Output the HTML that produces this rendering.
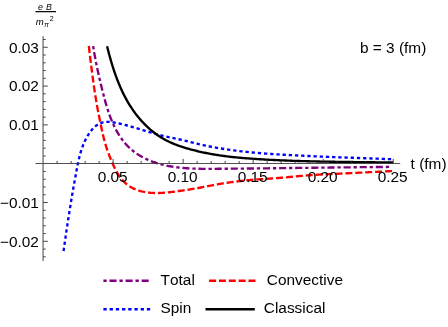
<!DOCTYPE html>
<html><head><meta charset="utf-8"><title>plot</title>
<style>
html,body{margin:0;padding:0;background:#fff;}
body{width:448px;height:327px;overflow:hidden;font-family:"Liberation Sans",sans-serif;}
svg{display:block;will-change:transform;}
text{font-kerning:none;font-family:"Liberation Sans",sans-serif;font-size:15.4px;fill:#000;}
.it{font-style:italic;}
</style></head><body>
<svg width="448" height="327" viewBox="0 0 448 327">
<rect width="448" height="327" fill="#fff"/>
<g fill="none" stroke-width="2.35" stroke-linecap="butt" stroke-linejoin="round">
<path d="M93.15,46.10 L93.34,47.35 L93.54,48.60 L93.74,49.85 L93.94,51.10 L94.15,52.34 L94.37,53.58 L94.59,54.83 L94.81,56.07 L95.04,57.30 L95.27,58.54 L95.50,59.78 L95.74,61.01 L95.98,62.24 L96.23,63.47 L96.48,64.71 L96.73,65.93 L96.99,67.16 L97.25,68.39 L97.51,69.62 L97.77,70.84 L98.04,72.07 L98.32,73.29 L98.59,74.51 L98.87,75.74 L99.15,76.96 L99.43,78.18 L99.72,79.40 L100.01,80.63 L100.30,81.85 L100.59,83.07 L100.88,84.29 L101.18,85.51 L101.48,86.73 L101.78,87.96 L102.08,89.18 L102.39,90.40 L102.70,91.62 L103.00,92.85 L103.32,94.07 L103.63,95.29 L103.95,96.52 L104.27,97.74 L104.59,98.96 L104.92,100.18 L105.26,101.40 L105.60,102.62 L105.95,103.83 L106.30,105.05 L106.66,106.26 L107.03,107.47 L107.40,108.68 L107.79,109.88 L108.18,111.08 L108.58,112.28 L108.99,113.48 L109.41,114.67 L109.84,115.86 L110.28,117.04 L110.74,118.22 L111.20,119.40 L111.68,120.57 L112.17,121.73 L112.67,122.90 L113.19,124.05 L113.72,125.20 L114.26,126.34 L114.82,127.48 L115.39,128.61 L115.98,129.73 L116.58,130.84 L117.20,131.94 L117.83,133.03 L118.48,134.11 L119.14,135.17 L119.82,136.23 L120.52,137.27 L121.24,138.30 L121.97,139.32 L122.72,140.32 L123.49,141.30 L124.27,142.27 L125.08,143.23 L125.90,144.16 L126.74,145.08 L127.60,145.98 L128.48,146.87 L129.38,147.73 L130.30,148.57 L131.23,149.40 L132.19,150.21 L133.16,150.99 L134.14,151.76 L135.15,152.51 L136.17,153.24 L137.20,153.94 L138.25,154.63 L139.31,155.30 L140.38,155.95 L141.47,156.58 L142.57,157.19 L143.68,157.79 L144.80,158.36 L145.94,158.91 L147.08,159.44 L148.23,159.95 L149.40,160.44 L150.57,160.91 L151.74,161.37 L152.93,161.81 L154.12,162.22 L155.32,162.63 L156.53,163.01 L157.74,163.38 L158.96,163.73 L160.18,164.07 L161.41,164.39 L162.64,164.70 L163.87,164.99 L165.10,165.27 L166.34,165.54 L167.58,165.79 L168.82,166.03 L170.06,166.25 L171.31,166.47 L172.55,166.67 L173.80,166.86 L175.04,167.04 L176.29,167.21 L177.54,167.37 L178.78,167.51 L180.03,167.65 L181.28,167.78 L182.53,167.90 L183.78,168.01 L185.04,168.11 L186.29,168.21 L187.54,168.29 L188.79,168.37 L190.05,168.44 L191.30,168.50 L192.56,168.56 L193.81,168.61 L195.07,168.66 L196.33,168.70 L197.58,168.73 L198.84,168.76 L200.10,168.78 L201.36,168.80 L202.62,168.82 L203.87,168.83 L205.13,168.83 L206.39,168.84 L207.65,168.84 L208.91,168.84 L210.17,168.84 L211.43,168.83 L212.69,168.83 L213.95,168.82 L215.21,168.81 L216.47,168.80 L217.73,168.79 L218.99,168.78 L220.25,168.77 L221.51,168.76 L222.77,168.75 L224.03,168.74 L225.29,168.73 L226.55,168.72 L227.81,168.71 L229.07,168.70 L230.33,168.69 L231.59,168.68 L232.85,168.67 L234.10,168.66 L235.36,168.65 L236.62,168.63 L237.88,168.62 L239.14,168.61 L240.40,168.60 L241.66,168.59 L242.92,168.57 L244.18,168.56 L245.44,168.55 L246.70,168.54 L247.96,168.52 L249.22,168.51 L250.48,168.50 L251.74,168.48 L253.00,168.47 L254.25,168.46 L255.51,168.44 L256.77,168.43 L258.03,168.41 L259.29,168.40 L260.55,168.39 L261.81,168.37 L263.07,168.36 L264.33,168.34 L265.59,168.33 L266.85,168.31 L268.11,168.30 L269.36,168.28 L270.62,168.27 L271.88,168.25 L273.14,168.24 L274.40,168.22 L275.66,168.21 L276.92,168.19 L278.18,168.18 L279.44,168.16 L280.70,168.15 L281.96,168.13 L283.21,168.12 L284.47,168.10 L285.73,168.09 L286.99,168.07 L288.25,168.06 L289.51,168.04 L290.77,168.02 L292.03,168.01 L293.29,167.99 L294.54,167.98 L295.80,167.96 L297.06,167.95 L298.32,167.93 L299.58,167.91 L300.84,167.90 L302.10,167.88 L303.36,167.87 L304.62,167.85 L305.88,167.84 L307.13,167.82 L308.39,167.80 L309.65,167.79 L310.91,167.77 L312.17,167.76 L313.43,167.74 L314.69,167.72 L315.95,167.71 L317.21,167.69 L318.46,167.68 L319.72,167.66 L320.98,167.65 L322.24,167.63 L323.50,167.62 L324.76,167.60 L326.02,167.58 L327.28,167.57 L328.54,167.55 L329.80,167.54 L331.05,167.52 L332.31,167.51 L333.57,167.49 L334.83,167.48 L336.09,167.46 L337.35,167.45 L338.61,167.43 L339.87,167.42 L341.13,167.41 L342.39,167.39 L343.65,167.38 L344.90,167.36 L346.16,167.35 L347.42,167.33 L348.68,167.32 L349.94,167.31 L351.20,167.29 L352.46,167.28 L353.72,167.26 L354.98,167.25 L356.24,167.24 L357.50,167.22 L358.76,167.21 L360.01,167.20 L361.27,167.19 L362.53,167.17 L363.79,167.16 L365.05,167.15 L366.31,167.14 L367.57,167.12 L368.83,167.11 L370.09,167.10 L371.35,167.09 L372.61,167.08 L373.87,167.06 L375.13,167.05 L376.39,167.04 L377.65,167.03 L378.91,167.02 L380.17,167.01 L381.43,167.00 L382.69,166.99 L383.94,166.98 L385.20,166.97 L386.46,166.96 L387.72,166.95 L388.98,166.94 L390.24,166.93 L391.50,166.92" stroke="#800080" stroke-dasharray="3.3 2.82 7.12 2.88"/>
<path d="M88.81,46.00 L88.98,47.38 L89.15,48.76 L89.32,50.14 L89.48,51.52 L89.65,52.90 L89.82,54.28 L89.99,55.66 L90.15,57.04 L90.32,58.41 L90.49,59.79 L90.66,61.17 L90.83,62.55 L90.99,63.93 L91.16,65.31 L91.34,66.69 L91.51,68.06 L91.68,69.44 L91.86,70.82 L92.03,72.20 L92.21,73.57 L92.39,74.95 L92.57,76.33 L92.75,77.70 L92.93,79.08 L93.12,80.45 L93.31,81.83 L93.50,83.20 L93.69,84.58 L93.88,85.95 L94.08,87.32 L94.28,88.70 L94.48,90.07 L94.69,91.44 L94.90,92.81 L95.11,94.19 L95.33,95.56 L95.54,96.93 L95.77,98.30 L95.99,99.67 L96.22,101.04 L96.45,102.41 L96.69,103.77 L96.93,105.14 L97.18,106.51 L97.43,107.88 L97.68,109.24 L97.94,110.61 L98.20,111.97 L98.47,113.34 L98.74,114.70 L99.01,116.06 L99.29,117.43 L99.56,118.79 L99.84,120.15 L100.12,121.52 L100.40,122.88 L100.68,124.24 L100.96,125.60 L101.24,126.97 L101.53,128.33 L101.81,129.69 L102.11,131.05 L102.40,132.40 L102.71,133.76 L103.02,135.11 L103.35,136.45 L103.68,137.80 L104.03,139.14 L104.38,140.47 L104.75,141.80 L105.12,143.13 L105.52,144.46 L105.92,145.78 L106.34,147.10 L106.77,148.41 L107.21,149.72 L107.66,151.02 L108.13,152.33 L108.61,153.63 L109.09,154.93 L109.59,156.22 L110.09,157.52 L110.61,158.81 L111.13,160.11 L111.67,161.40 L112.22,162.68 L112.78,163.97 L113.36,165.24 L113.95,166.52 L114.56,167.78 L115.19,169.04 L115.84,170.28 L116.52,171.51 L117.22,172.72 L117.95,173.92 L118.71,175.10 L119.50,176.25 L120.32,177.38 L121.17,178.48 L122.05,179.55 L122.96,180.58 L123.90,181.59 L124.88,182.55 L125.88,183.48 L126.93,184.36 L128.00,185.20 L129.12,185.99 L130.26,186.74 L131.44,187.43 L132.66,188.08 L133.90,188.68 L135.16,189.23 L136.45,189.74 L137.76,190.21 L139.09,190.63 L140.44,191.02 L141.79,191.37 L143.16,191.68 L144.53,191.95 L145.91,192.19 L147.29,192.40 L148.67,192.58 L150.05,192.72 L151.44,192.83 L152.82,192.92 L154.21,192.98 L155.60,193.01 L156.99,193.02 L158.38,193.01 L159.77,192.98 L161.16,192.92 L162.55,192.85 L163.94,192.76 L165.33,192.65 L166.72,192.53 L168.11,192.39 L169.50,192.25 L170.88,192.09 L172.27,191.92 L173.65,191.74 L175.04,191.56 L176.42,191.37 L177.80,191.18 L179.18,190.98 L180.56,190.78 L181.93,190.58 L183.30,190.38 L184.68,190.18 L186.05,189.98 L187.41,189.77 L188.78,189.56 L190.15,189.35 L191.51,189.13 L192.87,188.91 L194.24,188.68 L195.60,188.45 L196.96,188.21 L198.32,187.97 L199.69,187.72 L201.05,187.47 L202.41,187.21 L203.77,186.95 L205.14,186.68 L206.50,186.42 L207.86,186.15 L209.23,185.88 L210.59,185.62 L211.96,185.36 L213.32,185.09 L214.69,184.84 L216.06,184.58 L217.42,184.34 L218.79,184.09 L220.16,183.86 L221.53,183.63 L222.90,183.40 L224.27,183.19 L225.65,182.97 L227.02,182.76 L228.39,182.56 L229.77,182.37 L231.14,182.17 L232.52,181.99 L233.89,181.81 L235.27,181.63 L236.65,181.46 L238.03,181.29 L239.41,181.13 L240.79,180.97 L242.17,180.82 L243.55,180.68 L244.93,180.53 L246.31,180.40 L247.69,180.26 L249.07,180.13 L250.46,180.01 L251.84,179.89 L253.22,179.78 L254.61,179.66 L255.99,179.56 L257.38,179.45 L258.76,179.35 L260.15,179.25 L261.53,179.16 L262.92,179.06 L264.30,178.97 L265.69,178.88 L267.08,178.79 L268.46,178.69 L269.85,178.60 L271.23,178.51 L272.62,178.41 L274.01,178.32 L275.39,178.22 L276.78,178.12 L278.16,178.01 L279.55,177.90 L280.93,177.79 L282.31,177.67 L283.70,177.55 L285.08,177.43 L286.46,177.30 L287.85,177.17 L289.23,177.03 L290.61,176.90 L291.99,176.76 L293.38,176.62 L294.76,176.49 L296.14,176.35 L297.52,176.22 L298.91,176.09 L300.29,175.97 L301.67,175.85 L303.06,175.73 L304.44,175.62 L305.82,175.51 L307.21,175.41 L308.59,175.30 L309.98,175.21 L311.36,175.11 L312.75,175.02 L314.14,174.94 L315.52,174.85 L316.91,174.77 L318.29,174.69 L319.68,174.61 L321.07,174.54 L322.45,174.46 L323.84,174.39 L325.23,174.32 L326.62,174.25 L328.00,174.19 L329.39,174.12 L330.78,174.05 L332.16,173.99 L333.55,173.93 L334.94,173.86 L336.33,173.80 L337.71,173.73 L339.10,173.67 L340.49,173.60 L341.88,173.54 L343.26,173.47 L344.65,173.41 L346.04,173.34 L347.43,173.28 L348.81,173.21 L350.20,173.14 L351.59,173.08 L352.97,173.01 L354.36,172.94 L355.75,172.88 L357.14,172.81 L358.52,172.74 L359.91,172.67 L361.30,172.61 L362.68,172.54 L364.07,172.47 L365.46,172.40 L366.85,172.33 L368.23,172.26 L369.62,172.19 L371.01,172.12 L372.39,172.06 L373.78,171.99 L375.17,171.92 L376.56,171.85 L377.94,171.78 L379.33,171.71 L380.72,171.63 L382.10,171.56 L383.49,171.49 L384.88,171.42 L386.26,171.35 L387.65,171.28 L389.04,171.21 L390.43,171.14 L391.81,171.06 L393.20,170.99" stroke="#ff0000" stroke-dasharray="7.04 2.888"/>
<path d="M63.56,251.02 L63.76,249.58 L63.97,248.15 L64.17,246.71 L64.38,245.27 L64.58,243.84 L64.79,242.40 L64.99,240.97 L65.20,239.53 L65.41,238.10 L65.62,236.66 L65.83,235.23 L66.04,233.80 L66.25,232.36 L66.46,230.93 L66.68,229.50 L66.89,228.06 L67.10,226.63 L67.32,225.20 L67.54,223.77 L67.76,222.34 L67.98,220.91 L68.20,219.48 L68.42,218.05 L68.64,216.62 L68.86,215.19 L69.09,213.76 L69.31,212.33 L69.54,210.90 L69.77,209.47 L70.00,208.04 L70.23,206.61 L70.46,205.18 L70.69,203.75 L70.93,202.32 L71.16,200.90 L71.40,199.47 L71.64,198.04 L71.88,196.61 L72.12,195.18 L72.36,193.76 L72.61,192.33 L72.85,190.90 L73.10,189.48 L73.35,188.05 L73.60,186.62 L73.85,185.20 L74.10,183.77 L74.36,182.34 L74.62,180.92 L74.88,179.49 L75.14,178.06 L75.40,176.64 L75.66,175.21 L75.93,173.79 L76.19,172.36 L76.46,170.94 L76.73,169.51 L77.01,168.08 L77.28,166.66 L77.56,165.24 L77.85,163.81 L78.15,162.40 L78.46,160.98 L78.77,159.57 L79.10,158.16 L79.44,156.75 L79.80,155.35 L80.18,153.96 L80.57,152.57 L80.98,151.19 L81.41,149.81 L81.86,148.45 L82.34,147.09 L82.84,145.74 L83.37,144.40 L83.92,143.06 L84.51,141.74 L85.12,140.43 L85.77,139.13 L86.45,137.85 L87.16,136.57 L87.91,135.31 L88.70,134.06 L89.53,132.83 L90.39,131.62 L91.30,130.45 L92.25,129.32 L93.24,128.25 L94.27,127.23 L95.35,126.28 L96.48,125.41 L97.65,124.61 L98.87,123.92 L100.14,123.32 L101.46,122.83 L102.82,122.44 L104.22,122.16 L105.65,121.98 L107.10,121.89 L108.56,121.88 L110.02,121.95 L111.47,122.09 L112.92,122.29 L114.36,122.53 L115.79,122.81 L117.22,123.10 L118.65,123.41 L120.07,123.73 L121.49,124.07 L122.90,124.41 L124.31,124.76 L125.71,125.13 L127.12,125.50 L128.52,125.88 L129.91,126.27 L131.31,126.67 L132.70,127.07 L134.09,127.47 L135.48,127.89 L136.86,128.30 L138.25,128.72 L139.63,129.14 L141.02,129.56 L142.40,129.98 L143.79,130.40 L145.17,130.82 L146.55,131.24 L147.94,131.66 L149.32,132.08 L150.71,132.49 L152.09,132.89 L153.48,133.29 L154.87,133.69 L156.26,134.08 L157.66,134.46 L159.05,134.83 L160.45,135.20 L161.86,135.55 L163.26,135.90 L164.67,136.23 L166.08,136.55 L167.50,136.86 L168.92,137.17 L170.34,137.46 L171.76,137.76 L173.19,138.05 L174.61,138.34 L176.03,138.63 L177.45,138.93 L178.87,139.23 L180.28,139.54 L181.70,139.86 L183.11,140.19 L184.51,140.54 L185.91,140.89 L187.31,141.26 L188.71,141.62 L190.11,141.99 L191.51,142.35 L192.91,142.70 L194.31,143.05 L195.72,143.39 L197.13,143.72 L198.54,144.05 L199.95,144.38 L201.36,144.70 L202.77,145.01 L204.19,145.31 L205.61,145.61 L207.03,145.91 L208.45,146.20 L209.87,146.48 L211.29,146.76 L212.71,147.03 L214.14,147.29 L215.56,147.55 L216.99,147.81 L218.41,148.06 L219.84,148.30 L221.27,148.53 L222.70,148.76 L224.13,148.99 L225.56,149.21 L226.99,149.43 L228.42,149.63 L229.86,149.84 L231.29,150.04 L232.73,150.23 L234.16,150.42 L235.60,150.61 L237.03,150.79 L238.47,150.97 L239.91,151.14 L241.34,151.30 L242.78,151.47 L244.22,151.63 L245.66,151.78 L247.10,151.93 L248.54,152.08 L249.98,152.22 L251.42,152.36 L252.87,152.50 L254.31,152.63 L255.75,152.76 L257.19,152.89 L258.64,153.01 L260.08,153.13 L261.53,153.25 L262.97,153.36 L264.41,153.47 L265.86,153.58 L267.30,153.69 L268.75,153.79 L270.20,153.89 L271.64,153.99 L273.09,154.09 L274.53,154.18 L275.98,154.28 L277.43,154.37 L278.87,154.45 L280.32,154.54 L281.77,154.63 L283.21,154.71 L284.66,154.79 L286.11,154.87 L287.56,154.95 L289.00,155.03 L290.45,155.11 L291.90,155.18 L293.34,155.26 L294.79,155.33 L296.24,155.41 L297.69,155.48 L299.13,155.55 L300.58,155.62 L302.03,155.69 L303.47,155.76 L304.92,155.83 L306.37,155.90 L307.81,155.97 L309.26,156.04 L310.71,156.10 L312.15,156.17 L313.60,156.23 L315.05,156.30 L316.49,156.36 L317.94,156.42 L319.39,156.48 L320.83,156.55 L322.28,156.61 L323.73,156.67 L325.17,156.73 L326.62,156.79 L328.07,156.85 L329.51,156.91 L330.96,156.96 L332.41,157.02 L333.85,157.08 L335.30,157.14 L336.75,157.19 L338.19,157.25 L339.64,157.30 L341.09,157.36 L342.54,157.42 L343.98,157.47 L345.43,157.52 L346.88,157.58 L348.32,157.63 L349.77,157.69 L351.22,157.74 L352.66,157.79 L354.11,157.85 L355.56,157.90 L357.01,157.95 L358.45,158.01 L359.90,158.06 L361.35,158.11 L362.79,158.17 L364.24,158.22 L365.69,158.27 L367.14,158.32 L368.58,158.38 L370.03,158.43 L371.48,158.48 L372.93,158.53 L374.38,158.59 L375.82,158.64 L377.27,158.69 L378.72,158.75 L380.17,158.80 L381.62,158.85 L383.06,158.91 L384.51,158.96 L385.96,159.01 L387.41,159.07 L388.86,159.12 L390.31,159.18 L391.76,159.23 L393.21,159.29" stroke="#0000ff" stroke-dasharray="3.3 2.899"/>
<path d="M107.05,46.16 L107.32,47.26 L107.60,48.36 L107.88,49.46 L108.16,50.56 L108.44,51.66 L108.73,52.76 L109.03,53.86 L109.32,54.97 L109.62,56.07 L109.93,57.18 L110.24,58.28 L110.55,59.39 L110.87,60.49 L111.19,61.60 L111.52,62.70 L111.85,63.80 L112.19,64.91 L112.53,66.01 L112.87,67.11 L113.23,68.21 L113.58,69.31 L113.94,70.41 L114.31,71.50 L114.69,72.60 L115.06,73.69 L115.45,74.78 L115.84,75.87 L116.24,76.96 L116.64,78.04 L117.05,79.13 L117.47,80.21 L117.89,81.29 L118.32,82.36 L118.75,83.43 L119.19,84.50 L119.64,85.57 L120.10,86.63 L120.56,87.69 L121.03,88.74 L121.51,89.80 L122.00,90.84 L122.49,91.89 L122.99,92.93 L123.50,93.97 L124.02,95.00 L124.54,96.02 L125.08,97.05 L125.62,98.06 L126.17,99.08 L126.72,100.09 L127.29,101.09 L127.87,102.09 L128.45,103.08 L129.04,104.07 L129.65,105.05 L130.26,106.02 L130.88,106.99 L131.51,107.95 L132.15,108.91 L132.80,109.86 L133.45,110.81 L134.12,111.74 L134.80,112.68 L135.49,113.60 L136.19,114.52 L136.90,115.43 L137.61,116.33 L138.34,117.22 L139.08,118.11 L139.83,118.99 L140.58,119.86 L141.35,120.72 L142.13,121.57 L142.91,122.42 L143.71,123.25 L144.51,124.08 L145.32,124.89 L146.14,125.70 L146.98,126.49 L147.82,127.28 L148.67,128.05 L149.53,128.81 L150.39,129.57 L151.27,130.31 L152.16,131.04 L153.05,131.75 L153.95,132.46 L154.87,133.16 L155.79,133.84 L156.72,134.51 L157.66,135.16 L158.60,135.81 L159.56,136.44 L160.52,137.06 L161.49,137.66 L162.47,138.25 L163.46,138.83 L164.46,139.39 L165.46,139.94 L166.48,140.47 L167.50,140.99 L168.53,141.49 L169.56,141.98 L170.61,142.46 L171.66,142.93 L172.71,143.38 L173.77,143.82 L174.84,144.25 L175.91,144.67 L176.99,145.08 L178.07,145.48 L179.16,145.87 L180.25,146.25 L181.35,146.61 L182.45,146.97 L183.55,147.33 L184.66,147.67 L185.76,148.01 L186.87,148.33 L187.99,148.66 L189.10,148.97 L190.21,149.28 L191.33,149.58 L192.45,149.88 L193.57,150.17 L194.69,150.45 L195.81,150.73 L196.93,151.01 L198.06,151.28 L199.18,151.54 L200.31,151.79 L201.43,152.05 L202.56,152.29 L203.69,152.53 L204.82,152.77 L205.95,153.00 L207.08,153.22 L208.21,153.44 L209.34,153.66 L210.48,153.87 L211.61,154.07 L212.75,154.27 L213.88,154.47 L215.02,154.66 L216.15,154.85 L217.29,155.03 L218.43,155.20 L219.57,155.38 L220.71,155.54 L221.85,155.71 L222.99,155.86 L224.13,156.02 L225.27,156.17 L226.41,156.31 L227.55,156.46 L228.70,156.59 L229.84,156.73 L230.98,156.86 L232.13,156.98 L233.27,157.10 L234.41,157.22 L235.56,157.34 L236.70,157.45 L237.85,157.56 L238.99,157.67 L240.14,157.77 L241.28,157.87 L242.43,157.97 L243.58,158.07 L244.72,158.16 L245.87,158.25 L247.02,158.34 L248.16,158.43 L249.31,158.51 L250.46,158.60 L251.61,158.68 L252.76,158.76 L253.90,158.84 L255.05,158.91 L256.20,158.99 L257.35,159.06 L258.50,159.14 L259.65,159.21 L260.79,159.28 L261.94,159.35 L263.09,159.42 L264.24,159.48 L265.39,159.55 L266.54,159.62 L267.69,159.68 L268.84,159.74 L269.99,159.80 L271.14,159.86 L272.29,159.92 L273.44,159.98 L274.59,160.04 L275.74,160.09 L276.89,160.14 L278.04,160.20 L279.19,160.25 L280.34,160.30 L281.49,160.35 L282.64,160.40 L283.79,160.45 L284.94,160.50 L286.09,160.54 L287.24,160.59 L288.39,160.63 L289.55,160.68 L290.70,160.72 L291.85,160.76 L293.00,160.80 L294.15,160.84 L295.30,160.88 L296.45,160.92 L297.60,160.96 L298.76,160.99 L299.91,161.03 L301.06,161.06 L302.21,161.10 L303.36,161.13 L304.52,161.16 L305.67,161.19 L306.82,161.23 L307.97,161.26 L309.12,161.29 L310.27,161.31 L311.43,161.34 L312.58,161.37 L313.73,161.40 L314.88,161.42 L316.04,161.45 L317.19,161.48 L318.34,161.50 L319.49,161.53 L320.64,161.55 L321.80,161.57 L322.95,161.59 L324.10,161.62 L325.25,161.64 L326.41,161.66 L327.56,161.68 L328.71,161.70 L329.86,161.72 L331.02,161.74 L332.17,161.76 L333.32,161.78 L334.47,161.79 L335.63,161.81 L336.78,161.83 L337.93,161.85 L339.08,161.86 L340.23,161.88 L341.39,161.90 L342.54,161.91 L343.69,161.93 L344.84,161.94 L346.00,161.96 L347.15,161.97 L348.30,161.99 L349.45,162.00 L350.60,162.02 L351.76,162.03 L352.91,162.04 L354.06,162.06 L355.21,162.07 L356.36,162.08 L357.52,162.10 L358.67,162.11 L359.82,162.12 L360.97,162.14 L362.12,162.15 L363.27,162.16 L364.43,162.18 L365.58,162.19 L366.73,162.20 L367.88,162.21 L369.03,162.23 L370.18,162.24 L371.33,162.25 L372.49,162.27 L373.64,162.28 L374.79,162.29 L375.94,162.31 L377.09,162.32 L378.24,162.33 L379.39,162.35 L380.54,162.36 L381.69,162.38 L382.84,162.39 L383.99,162.41 L385.14,162.42 L386.29,162.44 L387.44,162.45 L388.59,162.47 L389.74,162.48 L390.89,162.50 L392.04,162.52 L393.19,162.53" stroke="#000"/>
</g>
<g shape-rendering="auto">
<line x1="35.5" y1="163.5" x2="400.2" y2="163.5" stroke="#333" stroke-width="0.85"/>
<line x1="43.05" y1="36.2" x2="43.05" y2="261" stroke="#444" stroke-width="1"/>
<line x1="57.10" y1="163.5" x2="57.10" y2="161.00" stroke="#333" stroke-width="0.9"/>
<line x1="71.11" y1="163.5" x2="71.11" y2="161.00" stroke="#333" stroke-width="0.9"/>
<line x1="85.11" y1="163.5" x2="85.11" y2="161.00" stroke="#333" stroke-width="0.9"/>
<line x1="99.12" y1="163.5" x2="99.12" y2="161.00" stroke="#333" stroke-width="0.9"/>
<line x1="113.12" y1="163.5" x2="113.12" y2="158.90" stroke="#333" stroke-width="0.9"/>
<line x1="127.12" y1="163.5" x2="127.12" y2="161.00" stroke="#333" stroke-width="0.9"/>
<line x1="141.13" y1="163.5" x2="141.13" y2="161.00" stroke="#333" stroke-width="0.9"/>
<line x1="155.13" y1="163.5" x2="155.13" y2="161.00" stroke="#333" stroke-width="0.9"/>
<line x1="169.14" y1="163.5" x2="169.14" y2="161.00" stroke="#333" stroke-width="0.9"/>
<line x1="183.14" y1="163.5" x2="183.14" y2="158.90" stroke="#333" stroke-width="0.9"/>
<line x1="197.14" y1="163.5" x2="197.14" y2="161.00" stroke="#333" stroke-width="0.9"/>
<line x1="211.15" y1="163.5" x2="211.15" y2="161.00" stroke="#333" stroke-width="0.9"/>
<line x1="225.15" y1="163.5" x2="225.15" y2="161.00" stroke="#333" stroke-width="0.9"/>
<line x1="239.16" y1="163.5" x2="239.16" y2="161.00" stroke="#333" stroke-width="0.9"/>
<line x1="253.16" y1="163.5" x2="253.16" y2="158.90" stroke="#333" stroke-width="0.9"/>
<line x1="267.16" y1="163.5" x2="267.16" y2="161.00" stroke="#333" stroke-width="0.9"/>
<line x1="281.17" y1="163.5" x2="281.17" y2="161.00" stroke="#333" stroke-width="0.9"/>
<line x1="295.17" y1="163.5" x2="295.17" y2="161.00" stroke="#333" stroke-width="0.9"/>
<line x1="309.18" y1="163.5" x2="309.18" y2="161.00" stroke="#333" stroke-width="0.9"/>
<line x1="323.18" y1="163.5" x2="323.18" y2="158.90" stroke="#333" stroke-width="0.9"/>
<line x1="337.18" y1="163.5" x2="337.18" y2="161.00" stroke="#333" stroke-width="0.9"/>
<line x1="351.19" y1="163.5" x2="351.19" y2="161.00" stroke="#333" stroke-width="0.9"/>
<line x1="365.19" y1="163.5" x2="365.19" y2="161.00" stroke="#333" stroke-width="0.9"/>
<line x1="379.20" y1="163.5" x2="379.20" y2="161.00" stroke="#333" stroke-width="0.9"/>
<line x1="393.20" y1="163.5" x2="393.20" y2="158.90" stroke="#333" stroke-width="0.9"/>
<line x1="43.1" y1="256.84" x2="45.70" y2="256.84" stroke="#333" stroke-width="0.9"/>
<line x1="43.1" y1="249.08" x2="45.70" y2="249.08" stroke="#333" stroke-width="0.9"/>
<line x1="43.1" y1="241.32" x2="47.80" y2="241.32" stroke="#333" stroke-width="0.9"/>
<line x1="43.1" y1="233.56" x2="45.70" y2="233.56" stroke="#333" stroke-width="0.9"/>
<line x1="43.1" y1="225.80" x2="45.70" y2="225.80" stroke="#333" stroke-width="0.9"/>
<line x1="43.1" y1="218.03" x2="45.70" y2="218.03" stroke="#333" stroke-width="0.9"/>
<line x1="43.1" y1="210.27" x2="45.70" y2="210.27" stroke="#333" stroke-width="0.9"/>
<line x1="43.1" y1="202.51" x2="47.80" y2="202.51" stroke="#333" stroke-width="0.9"/>
<line x1="43.1" y1="194.75" x2="45.70" y2="194.75" stroke="#333" stroke-width="0.9"/>
<line x1="43.1" y1="186.99" x2="45.70" y2="186.99" stroke="#333" stroke-width="0.9"/>
<line x1="43.1" y1="179.22" x2="45.70" y2="179.22" stroke="#333" stroke-width="0.9"/>
<line x1="43.1" y1="171.46" x2="45.70" y2="171.46" stroke="#333" stroke-width="0.9"/>
<line x1="43.1" y1="155.94" x2="45.70" y2="155.94" stroke="#333" stroke-width="0.9"/>
<line x1="43.1" y1="148.18" x2="45.70" y2="148.18" stroke="#333" stroke-width="0.9"/>
<line x1="43.1" y1="140.41" x2="45.70" y2="140.41" stroke="#333" stroke-width="0.9"/>
<line x1="43.1" y1="132.65" x2="45.70" y2="132.65" stroke="#333" stroke-width="0.9"/>
<line x1="43.1" y1="124.89" x2="47.80" y2="124.89" stroke="#333" stroke-width="0.9"/>
<line x1="43.1" y1="117.13" x2="45.70" y2="117.13" stroke="#333" stroke-width="0.9"/>
<line x1="43.1" y1="109.37" x2="45.70" y2="109.37" stroke="#333" stroke-width="0.9"/>
<line x1="43.1" y1="101.60" x2="45.70" y2="101.60" stroke="#333" stroke-width="0.9"/>
<line x1="43.1" y1="93.84" x2="45.70" y2="93.84" stroke="#333" stroke-width="0.9"/>
<line x1="43.1" y1="86.08" x2="47.80" y2="86.08" stroke="#333" stroke-width="0.9"/>
<line x1="43.1" y1="78.32" x2="45.70" y2="78.32" stroke="#333" stroke-width="0.9"/>
<line x1="43.1" y1="70.56" x2="45.70" y2="70.56" stroke="#333" stroke-width="0.9"/>
<line x1="43.1" y1="62.79" x2="45.70" y2="62.79" stroke="#333" stroke-width="0.9"/>
<line x1="43.1" y1="55.03" x2="45.70" y2="55.03" stroke="#333" stroke-width="0.9"/>
<line x1="43.1" y1="47.27" x2="47.80" y2="47.27" stroke="#333" stroke-width="0.9"/>
<line x1="43.1" y1="39.51" x2="45.70" y2="39.51" stroke="#333" stroke-width="0.9"/>
</g>
<g>
<text transform="translate(38.90,52.52) scale(1,0.963)" text-anchor="end">0.03</text>
<text transform="translate(38.90,91.33) scale(1,0.963)" text-anchor="end">0.02</text>
<text transform="translate(38.90,130.14) scale(1,0.963)" text-anchor="end">0.01</text>
<text transform="translate(38.90,207.76) scale(1,0.963)" text-anchor="end">−0.01</text>
<text transform="translate(38.90,246.57) scale(1,0.963)" text-anchor="end">−0.02</text>
<text transform="translate(112.62,181.70) scale(1,0.963)" text-anchor="middle">0.05</text>
<text transform="translate(182.64,181.70) scale(1,0.963)" text-anchor="middle">0.10</text>
<text transform="translate(252.66,181.70) scale(1,0.963)" text-anchor="middle">0.15</text>
<text transform="translate(322.68,181.70) scale(1,0.963)" text-anchor="middle">0.20</text>
<text transform="translate(392.70,181.70) scale(1,0.963)" text-anchor="middle">0.25</text>
<text transform="translate(360.00,52.50) scale(1,0.963)" text-anchor="start">b = 3 (fm)</text>
<text transform="translate(410.60,168.90) scale(1,0.963)" text-anchor="start">t (fm)</text>
</g>
<!-- y label fraction -->
<g>
<text x="38.0" y="10.1" class="it" style="font-size:8.8px;word-spacing:0.6px">e B</text>
<line x1="35.5" y1="11.65" x2="56" y2="11.65" stroke="#000" stroke-width="1.2"/>
<text x="35.8" y="25.2" class="it" style="font-size:9.6px">m</text>
<text x="44.3" y="26.5" class="it" style="font-size:6.9px">&#960;</text>
<text x="49.7" y="20.6" style="font-size:7px">2</text>
</g>
<!-- legend -->
<g fill="none" stroke-width="2.35">
<line x1="103.4" y1="280.75" x2="149.3" y2="280.75" stroke="#800080" stroke-dasharray="3.3 2.8 7.1 2.86"/>
<line x1="209.1" y1="280.75" x2="255.6" y2="280.75" stroke="#ff0000" stroke-dasharray="7 2.85"/>
<line x1="103.4" y1="309.25" x2="150.2" y2="309.25" stroke="#0000ff" stroke-dasharray="3.3 2.91"/>
<line x1="205.5" y1="309.25" x2="254.8" y2="309.25" stroke="#000"/>
</g>
<g>
<text transform="translate(160.60,285.00) scale(1,0.963)" text-anchor="start">Total</text>
<text transform="translate(266.80,285.00) scale(1,0.963)" text-anchor="start">Convective</text>
<text transform="translate(160.50,313.35) scale(1,0.963)" text-anchor="start">Spin</text>
<text transform="translate(263.80,313.35) scale(1,0.963)" text-anchor="start">Classical</text>
</g>
</svg>
</body></html>
